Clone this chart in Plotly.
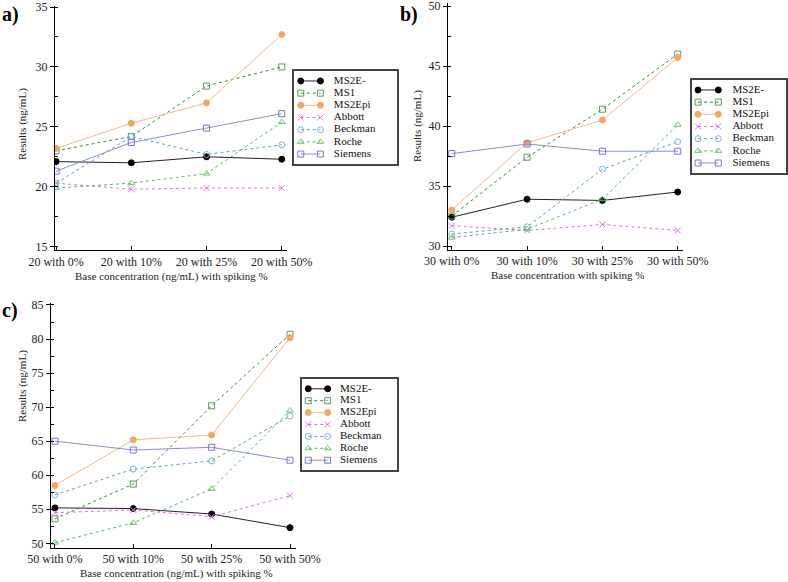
import plotly.graph_objects as go

# series names (one entry per series)
series = ["MS2E-", "MS1", "MS2Epi", "Abbott", "Beckman", "Roche", "Siemens"]

# panel a) 20 ng/mL base
cats_a = ["20 with 0%", "20 with 10%", "20 with 25%", "20 with 50%"]
a_ms2e = [22.1, 22.0, 22.5, 22.3]
a_ms1 = [23.0, 24.2, 28.4, 30.0]
a_ms2epi = [23.2, 25.3, 27.0, 32.7]
a_abbott = [20.3, 19.8, 19.9, 19.9]
a_beckman = [20.3, 24.2, 22.7, 23.5]
a_roche = [19.9, 20.3, 21.1, 25.4]
a_siemens = [21.3, 23.7, 24.9, 26.1]

# panel b) 30 ng/mL base
cats_b = ["30 with 0%", "30 with 10%", "30 with 25%", "30 with 50%"]
b_ms2e = [32.4, 33.9, 33.8, 34.5]
b_ms1 = [32.5, 37.4, 41.4, 46.0]
b_ms2epi = [33.0, 38.6, 40.5, 45.7]
b_abbott = [31.7, 31.3, 31.8, 31.3]
b_beckman = [31.0, 31.6, 36.4, 38.7]
b_roche = [30.7, 31.4, 33.9, 40.1]
b_siemens = [37.7, 38.5, 37.9, 37.9]

# panel c) 50 ng/mL base
cats_c = ["50 with 0%", "50 with 10%", "50 with 25%", "50 with 50%"]
c_ms2e = [55.2, 55.1, 54.3, 52.3]
c_ms1 = [53.6, 58.7, 70.2, 80.7]
c_ms2epi = [58.5, 65.2, 65.9, 80.2]
c_abbott = [54.5, 54.9, 53.9, 57.0]
c_beckman = [57.1, 60.9, 62.1, 68.7]
c_roche = [50.1, 53.0, 58.0, 69.5]
c_siemens = [65.0, 63.7, 64.1, 62.2]

styles = {
    "MS2E-":   dict(color="#000000", line="#222222", dash="solid", symbol="circle"),
    "MS1":     dict(color="#5f9a5f", line="#2f8a3a", dash="dot", symbol="square-open"),
    "MS2Epi":  dict(color="#f7a75c", line="#f2b888", dash="solid", symbol="circle"),
    "Abbott":  dict(color="#e070e8", line="#e070e8", dash="dot", symbol="x-thin-open"),
    "Beckman": dict(color="#7ab4d4", line="#5a9ec4", dash="dot", symbol="circle-open"),
    "Roche":   dict(color="#66c866", line="#55bb55", dash="dot", symbol="triangle-up-open"),
    "Siemens": dict(color="#7878c8", line="#8c8cd0", dash="solid", symbol="square-open"),
}

FONT = "Liberation Serif"
W, H = 788, 582

panels = [
    ("", cats_a, [a_ms2e, a_ms1, a_ms2epi, a_abbott, a_beckman, a_roche, a_siemens]),
    ("2", cats_b, [b_ms2e, b_ms1, b_ms2epi, b_abbott, b_beckman, b_roche, b_siemens]),
    ("3", cats_c, [c_ms2e, c_ms1, c_ms2epi, c_abbott, c_beckman, c_roche, c_siemens]),
]

fig = go.Figure()

for ax, cats, vals in panels:
    for name, ys in zip(series, vals):
        st = styles[name]
        fig.add_trace(go.Scatter(
            x=cats, y=ys, name=name, mode="lines+markers",
            xaxis="x" + ax, yaxis="y" + ax, showlegend=False,
            line=dict(color=st["line"], width=1, dash=st["dash"]),
            marker=dict(symbol=st["symbol"], size=6, color=st["color"],
                        line=dict(color=st["color"], width=1)),
        ))

# hand made legend boxes, one small axis pair per panel
legend_axes = [("4", 0.07, 0.26, 0.39), ("5", 0.064, 0.28, 0.43), ("6", 0.066, 0.27, 0.40)]
for ax, m1, m2, tx in legend_axes:
    for i, name in enumerate(series):
        st = styles[name]
        fig.add_trace(go.Scatter(
            x=[m1, m2], y=[i, i], mode="lines+markers", showlegend=False,
            xaxis="x" + ax, yaxis="y" + ax, hoverinfo="skip",
            line=dict(color=st["line"], width=1, dash=st["dash"]),
            marker=dict(symbol=st["symbol"], size=6, color=st["color"],
                        line=dict(color=st["color"], width=1)),
        ))
    fig.add_trace(go.Scatter(
        x=[tx] * len(series), y=list(range(len(series))), mode="text",
        text=series, textposition="middle right", showlegend=False,
        xaxis="x" + ax, yaxis="y" + ax, hoverinfo="skip",
        textfont=dict(family=FONT, size=11, color="#111"),
    ))

tickfont = dict(family=FONT, size=12, color="#222")


def xax(domain, rng, anchor):
    return dict(domain=domain, range=rng, anchor=anchor, type="category",
                showline=True, linecolor="#000", linewidth=1, showgrid=False,
                ticks="inside", ticklen=4, tickcolor="#000", tickfont=tickfont,
                zeroline=False, automargin=False)


def yax(domain, rng, anchor, dtick):
    return dict(domain=domain, range=rng, anchor=anchor, dtick=dtick, tick0=0,
                showline=True, linecolor="#000", linewidth=1, showgrid=False,
                ticks="outside", ticklen=4, tickcolor="#000", tickfont=tickfont,
                ticklabeloverflow="allow",
                minor=dict(ticks="inside", ticklen=3, tickcolor="#000", dtick=dtick / 2),
                zeroline=False, automargin=False)


def legax(domain, rng, anchor):
    return dict(domain=domain, range=rng, anchor=anchor, showline=True, mirror=True,
                linecolor="#444", linewidth=1.5, showgrid=False, zeroline=False,
                showticklabels=False, ticks="", fixedrange=True, automargin=False)


def label(text, px, py, size, angle=0, bold=False):
    t = "<b>%s</b>" % text if bold else text
    return dict(text=t, x=px / W, y=1 - py / H, xref="paper", yref="paper",
                xanchor="center", yanchor="middle", showarrow=False, textangle=angle,
                font=dict(family=FONT, size=size, color="#000" if bold else "#222"))


fig.update_layout(
    width=W, height=H, template="none",
    margin=dict(l=0, r=0, t=0, b=0),
    paper_bgcolor="white", plot_bgcolor="white",
    font=dict(family=FONT, color="#222"),
    showlegend=False,
    xaxis=xax([55 / W, 287 / W], [-0.015, 3.07], "y"),
    yaxis=yax([1 - 250.3 / H, 1 - 5.8 / H], [14.7, 35.1], "x", 5),
    xaxis2=xax([448 / W, 683 / W], [-0.05, 3.07], "y2"),
    yaxis2=yax([1 - 250 / H, 1 - 3 / H], [29.67, 50.25], "x2", 5),
    xaxis3=xax([51 / W, 295.5 / W], [-0.05, 3.07], "y3"),
    yaxis3=yax([1 - 548 / H, 1 - 303 / H], [49.31, 85.29], "x3", 5),
    xaxis4=legax([293.5 / W, 397 / W], [0, 1], "y4"),
    yaxis4=legax([1 - 164 / H, 1 - 71 / H], [6.82, -0.82], "x4"),
    xaxis5=legax([692 / W, 786 / W], [0, 1], "y5"),
    yaxis5=legax([1 - 173 / H, 1 - 80 / H], [6.82, -0.82], "x5"),
    xaxis6=legax([302 / W, 397 / W], [0, 1], "y6"),
    yaxis6=legax([1 - 470 / H, 1 - 379 / H], [6.82, -0.82], "x6"),
    annotations=[
        label("a)", 10, 14, 20, bold=True),
        label("b)", 409, 14, 20, bold=True),
        label("c)", 10, 310, 20, bold=True),
        label("Base concentration (ng/mL) with spiking %", 171, 276, 11),
        label("Base concentration with spiking %", 567, 275, 11),
        label("Base concentration (ng/mL) with spiking %", 176, 573, 11),
        label("Results (ng/mL)", 22, 124, 11, angle=-90),
        label("Results (ng/mL)", 417, 126, 11, angle=-90),
        label("Results (ng/mL)", 22, 386, 11, angle=-90),
    ],
)

# drop the page's default body margin so the figure sits at the window corner
fig.write_html("out.html", config={"displayModeBar": False},
               post_script="document.body.style.margin='0px';")
